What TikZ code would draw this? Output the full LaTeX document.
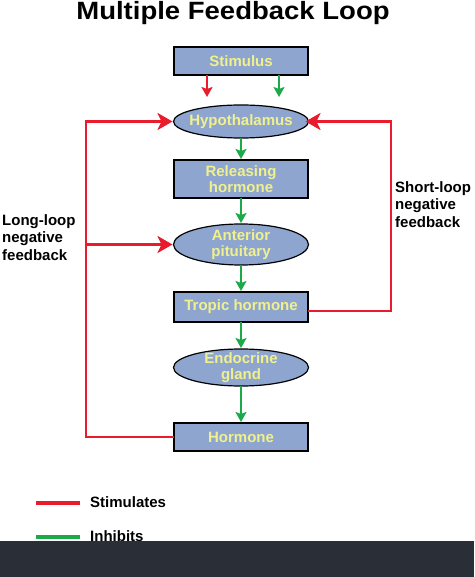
\documentclass[tikz,border=0pt]{standalone}
\usepackage{fontspec}
\setmainfont{Liberation Sans}
\usepackage{tikz}
\usetikzlibrary{shapes.geometric, arrows.meta, positioning}

\definecolor{boxblue}{RGB}{142,166,207}
\definecolor{boxtext}{RGB}{240,240,140}
\definecolor{fbred}{RGB}{232,28,44}
\definecolor{fbgreen}{RGB}{28,170,72}
\definecolor{banner}{RGB}{42,46,54}

\begin{document}
\begin{tikzpicture}[
			x=1pt, y=-1pt,
			node distance=27pt,
			block/.style={
				rectangle,
				draw=black,
				fill=boxblue,
				minimum width=134pt,
				minimum height=28pt,
				inner sep=2pt,
				outer sep=0pt,
				text=boxtext,
				align=center,
				font=\fontsize{15}{16.5}\selectfont\bfseries,
				line width=1.2pt
			},
			oval/.style={
				ellipse,
				draw=black,
				fill=boxblue,
				minimum width=135pt,
				inner sep=0pt,
				outer sep=0pt,
				line width=1.2pt
			},
			ovaltext/.style={
				text=boxtext,
				align=center,
				font=\fontsize{15}{16.5}\selectfont\bfseries
			},
			stimarrow/.style={
				-{Stealth[length=15pt, width=17pt, inset=4pt]},
				draw=fbred,
				line width=2.6pt
			},
			smallstim/.style={
				-{Stealth[length=10pt, width=11pt, inset=2pt]},
				draw=fbred,
				line width=2.2pt
			},
			inharrow/.style={
				-{Stealth[length=10pt, width=11pt, inset=2pt]},
				draw=fbgreen,
				line width=2.2pt
			},
			sidetext/.style={
				font=\fontsize{15}{17.5}\selectfont\bfseries,
				align=left,
				inner sep=0pt
			}
			]
			
			\useasboundingbox (0,0) rectangle (474,577);
			
			% Title
			\node[anchor=base, font=\fontsize{25}{30}\selectfont\bfseries, xscale=1.1, transform shape] (title) at (233,20) {Multiple Feedback Loop};
			
			% Stimulus (top)
			\node[block] (stim) at (241,61) {Stimulus};
			
			% Hypothalamus
			\node[oval, minimum height=33pt, below=30pt of stim,
				label={[name=hypo-text, ovaltext]center:Hypothalamus}] (hypo) {};
			\draw[smallstim, shorten >=8pt] ([xshift=-34pt]stim.south) -- ([xshift=-34pt]hypo.north);
			\draw[inharrow, shorten >=8pt] ([xshift=38pt]stim.south) -- ([xshift=38pt]hypo.north);
			
			% Releasing hormone
			\node[block, minimum height=38pt, below=22pt of hypo] (rel) {Releasing\\hormone};
			\draw[inharrow, shorten >=1pt] (hypo.south) -- (rel.north);
			
			% Anterior pituitary
			\node[oval, minimum height=41pt, below=26pt of rel,
				label={[name=ap-text, ovaltext]center:{Anterior\\pituitary}}] (ap) {};
			\draw[inharrow, shorten >=1pt] (rel.south) -- (ap.north);
			
			% Tropic hormone
			\node[block, minimum height=30pt, below=of ap] (tropic) {Tropic hormone};
			\draw[inharrow, shorten >=1pt] (ap.south) -- (tropic.north);
			
			% Endocrine gland
			\node[oval, minimum height=37pt, below=of tropic,
				label={[name=gland-text, ovaltext]center:{Endocrine\\gland}}] (gland) {};
			\draw[inharrow, shorten >=1pt] (tropic.south) -- (gland.north);
			
			% Hormone (bottom)
			\node[block, below=37pt of gland] (hormone) {Hormone};
			\draw[inharrow, shorten >=1pt] (gland.south) -- (hormone.north);
			
			% Long loop (left)
			\coordinate (longx) at (86,0);
			\draw[stimarrow, shorten >=1pt] (hormone.west) -- (longx |- hormone.west) -- (longx |- hypo.west) -- (hypo.west);
			\draw[stimarrow, shorten >=1pt] (longx |- ap.west) -- (ap.west);
			\node[sidetext, anchor=north west] (longtext) at (2,214) {Long-loop\\negative\\feedback};
			
			% Short loop (right)
			\coordinate (shortx) at (391,0);
			\coordinate (short-start) at ([yshift=-4pt]tropic.east);
			\draw[stimarrow, shorten >=-3pt] (short-start) -- (shortx |- short-start) -- (shortx |- hypo.east) -- (hypo.east);
			\node[sidetext, anchor=north west] (shorttext) at (395,181) {Short-loop\\negative\\feedback};
			
			% Legend
			\coordinate (key-red) at (36,503);
			\node[sidetext, anchor=west] (key-stim) at (90,502) {Stimulates};
			\draw[draw=fbred, line width=4pt] (key-red) -- ([xshift=-10pt]key-stim.west |- key-red);
			\coordinate (key-green) at (36,537);
			\node[sidetext, anchor=west] (key-inh) at (90,536) {Inhibits};
			\draw[draw=fbgreen, line width=4pt] (key-green) -- ([xshift=-10pt]key-inh.west |- key-green);
			
			% Bottom bar
			\fill[banner] (0,541) rectangle (474,577);
			
		\end{tikzpicture}
\end{document}
